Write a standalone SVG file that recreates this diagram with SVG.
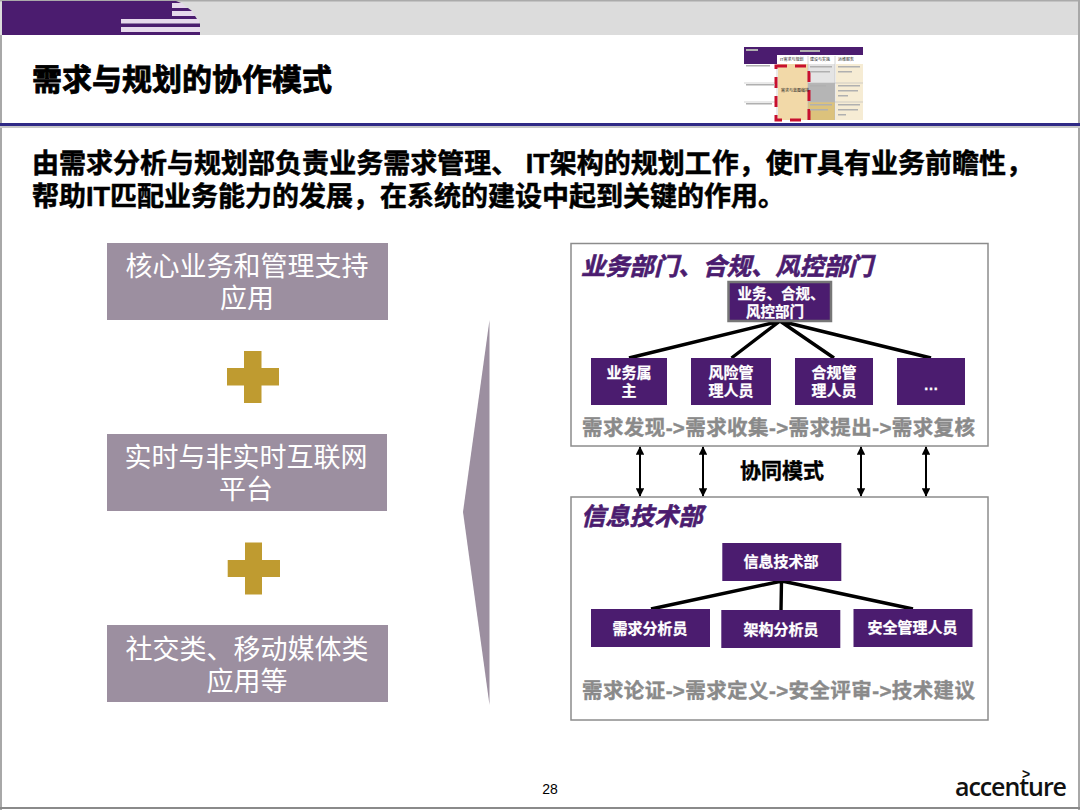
<svg xmlns="http://www.w3.org/2000/svg" width="1080" height="810" viewBox="0 0 1080 810">
<style>
text{font-family:"Liberation Sans","Noto Sans CJK SC",sans-serif;text-anchor:middle}
.b{font-weight:700}
.title{font-size:30px;font-weight:700;fill:#000;text-anchor:start;stroke:#000;stroke-width:.8px}
.sub{font-size:27px;font-weight:700;fill:#000;text-anchor:start;stroke:#000;stroke-width:.5px}
.left{font-size:27px;fill:#fff}
.pbox{fill:#4b1c6f}
.pt{font-size:15px;font-weight:700;fill:#fff;stroke:#fff;stroke-width:.25px}
.panel{fill:#fff;stroke:#8c8c8c;stroke-width:1.5}
.ph{font-size:24.3px;font-weight:700;font-style:italic;fill:#4b1c6f;stroke:#4b1c6f;stroke-width:.6px;text-anchor:start}
.gr{font-size:20.5px;font-weight:700;fill:#8a8a8a;stroke:#8a8a8a;stroke-width:.4px;text-anchor:start}
.ln{stroke:#000;stroke-width:3.4;fill:none}
.ar{stroke:#000;stroke-width:2;fill:none;marker-start:url(#a);marker-end:url(#a)}
.plus{fill:#bf9b30}
.lb{fill:#9c8fa0}
.tb{fill:#b0b0b0}
.th{font-size:4px;fill:#222;text-anchor:start}
</style>
<defs><marker id="a" viewBox="0 0 10 10" refX="9" refY="5" markerWidth="10" markerHeight="8.5" markerUnits="userSpaceOnUse" orient="auto-start-reverse"><path d="M0 0L10 5L0 10Z" fill="#000"/></marker></defs>
<rect width="1080" height="810" fill="#fff"/>
<g id="header">
<rect x="0" y="0" width="1080" height="35" fill="#dcdcdc"/>
<rect x="0" y="0" width="1080" height="1.5" fill="#aaa"/>
<rect x="2" y="1" width="170" height="18" fill="#4b1c6f"/>
<rect x="2" y="19" width="119" height="16" fill="#4b1c6f"/>
<path d="M172 1H176L181 3H172Z" fill="#4b1c6f"/>
<path d="M172 3H182L187 8H172Z" fill="#e6d9ec"/>
<path d="M172 8H188L192 11H172Z" fill="#4b1c6f"/>
<path d="M172 11H192L195 16H172Z" fill="#e6d9ec"/>
<path d="M172 16H195L197 19H172Z" fill="#4b1c6f"/>
<rect x="121" y="19" width="78" height="4.5" fill="#e6d9ec"/>
<rect x="121" y="23.5" width="79" height="3.5" fill="#4b1c6f"/>
<rect x="121" y="27" width="79" height="5" fill="#e6d9ec"/>
<rect x="121" y="32" width="79" height="3" fill="#4b1c6f"/>
<rect x="0" y="35" width="2" height="775" fill="#a8a8a8"/>
<rect x="1078" y="0" width="2" height="810" fill="#a8a8a8"/>
<rect x="0" y="807" width="1080" height="2" fill="#8a8a8a"/>
<rect x="0" y="123" width="1080" height="3" fill="#2f2a86"/>
<rect x="0" y="126" width="1080" height="2" fill="#c8c8c8"/>
</g>
<text class="title" x="32" y="90">需求与规划的协作模式</text>
<g id="thumbnail">
<rect x="744" y="47" width="119" height="73" fill="#fff"/>
<rect x="744" y="47" width="119" height="8" fill="#4b1c6f"/>
<rect x="744" y="55" width="33" height="9" fill="#4b1c6f"/>
<rect x="778" y="64" width="30" height="56" fill="#f2d9a8"/>
<rect x="808" y="64" width="27" height="19" fill="#e4e4e4"/>
<rect x="808" y="83" width="27" height="19" fill="#b5b5b5"/>
<rect x="808" y="102" width="27" height="18" fill="#dcc27c"/>
<rect x="836" y="64" width="27" height="56" fill="#f6ecd4"/>
<path d="M777 64V120M808 56V120M835 56V120M744 83H777M744 102H777M808 83H863M808 102H863" stroke="#bbb" stroke-width=".6"/>
<rect x="776" y="66" width="33" height="54" fill="none" stroke="#c8102e" stroke-width="3" stroke-dasharray="11 8"/>
<path class="tb" d="M746 65h24v1.500h-24zM746 84h29v1.500h-29zM746 103h26v1.500h-26zM810 66h22v1.500h-22zM810 71h20v1.500h-20zM810 85h16v1.500h-16zM810 104h22v1.500h-22zM810 109h18v1.500h-18zM838 66h22v1.500h-22zM838 71h14v1.500h-14zM838 85h22v1.500h-22zM838 90h20v1.500h-20zM838 95h10v1.500h-10zM838 104h22v1.500h-22zM838 109h20v1.500h-20zM838 114h8v1.500h-8zM746 49h12v2h-12zM800 50h20v2h-20z"/>
<text class="th" x="781" y="92">需求与蓝图编排</text>
<text class="th" x="780" y="61">IT需求与规划</text>
<text class="th" x="810" y="61">建设与实施</text>
<text class="th" x="838" y="61">运维服务</text>
</g>
<g id="subtitle">
<text class="sub" x="32" y="173" textLength="1001">由需求分析与规划部负责业务需求管理、 IT架构的规划工作，使IT具有业务前瞻性，</text>
<text class="sub" x="32" y="206" textLength="753">帮助IT匹配业务能力的发展，在系统的建设中起到关键的作用。</text>
</g>
<g id="node-core"><rect class="lb" x="107" y="243" width="281" height="77"/><text class="left" x="247" y="276">核心业务和管理支持</text><text class="left" x="247" y="308">应用</text></g>
<g id="plus-1"><path class="plus" d="M244 351H261.500V368H279V385.500H261.500V403H244V385.500H227V368H244Z"/></g>
<g id="node-realtime"><rect class="lb" x="107" y="434" width="280" height="77"/><text class="left" x="246" y="467">实时与非实时互联网</text><text class="left" x="246" y="499">平台</text></g>
<g id="plus-2"><path class="plus" d="M245 542.500H262V560H280V577H262V594.500H245V577H227.700V560H245Z"/></g>
<g id="node-social"><rect class="lb" x="107" y="625" width="281" height="77"/><text class="left" x="247" y="659">社交类、移动媒体类</text><text class="left" x="247" y="691">应用等</text></g>
<g id="brace"><path class="lb" d="M489.500 320V705L463 512Z"/></g>
<g id="panel-business">
<rect class="panel" x="571" y="243.500" width="417" height="202.500"/>
<text class="ph" x="581" y="275">业务部门、合规、风控部门</text>
<text class="gr" x="582" y="435" textLength="393">需求发现-&gt;需求收集-&gt;需求提出-&gt;需求复核</text>
</g>
<g id="panel-it">
<rect class="panel" x="571" y="497" width="417" height="223"/>
<text class="ph" x="581" y="525">信息技术部</text>
<text class="gr" x="582" y="698" textLength="393">需求论证-&gt;需求定义-&gt;安全评审-&gt;技术建议</text>
</g>
<g id="connectors">
<path class="ln" d="M780 321L629 358M780 321L731.500 358M780 321L834 358M780 321L931 358"/>
<path class="ln" d="M782 581L651 609M781.500 581L781 610M782 581L913 609"/>
<path class="ar" d="M640 447V496"/>
<path class="ar" d="M703 447V496"/>
<path class="ar" d="M861 447V496"/>
<path class="ar" d="M926 447V496"/>
</g>
<g id="node-biz"><rect x="728.500" y="282" width="102.500" height="39" fill="#4b1c6f" stroke="#777" stroke-width="2.500"/><text class="pt" x="781" y="299" style="font-size:14.5px">业务、合规、</text><text class="pt" x="775" y="317" style="font-size:14.5px">风控部门</text></g>
<g id="node-owner"><rect class="pbox" x="591" y="358" width="76" height="47"/><text class="pt" x="629" y="378">业务属</text><text class="pt" x="629" y="396">主</text></g>
<g id="node-risk"><rect class="pbox" x="691" y="358" width="80" height="47"/><text class="pt" x="731" y="378">风险管</text><text class="pt" x="731" y="396">理人员</text></g>
<g id="node-compliance"><rect class="pbox" x="795" y="358" width="78" height="47"/><text class="pt" x="834" y="378">合规管</text><text class="pt" x="834" y="396">理人员</text></g>
<g id="node-more"><rect class="pbox" x="897" y="358" width="68" height="47"/><text class="pt" x="931" y="390">…</text></g>
<text class="b" x="782" y="478" style="font-size:21px;fill:#000;stroke:#000;stroke-width:.4px">协同模式</text>
<g id="node-it"><rect class="pbox" x="722.300" y="543" width="119" height="38"/><text class="pt" x="781" y="567">信息技术部</text></g>
<g id="node-analyst"><rect class="pbox" x="591" y="609" width="119" height="38"/><text class="pt" x="650" y="633.500">需求分析员</text></g>
<g id="node-arch"><rect class="pbox" x="721.300" y="610" width="119" height="38"/><text class="pt" x="781" y="634.500">架构分析员</text></g>
<g id="node-sec"><rect class="pbox" x="853.500" y="609" width="119" height="38"/><text class="pt" x="912.500" y="633">安全管理人员</text></g>
<text x="550" y="794" style="font-size:14px;fill:#000">28</text>
<g id="logo">
<text x="1011" y="796" style="font-size:25px;font-weight:600;fill:#111;font-family:'Open Sans','Liberation Sans',sans-serif" textLength="112">accenture</text>
<text x="1026" y="779" style="font-size:14px;font-weight:700;fill:#111">&gt;</text>
</g>
</svg>
